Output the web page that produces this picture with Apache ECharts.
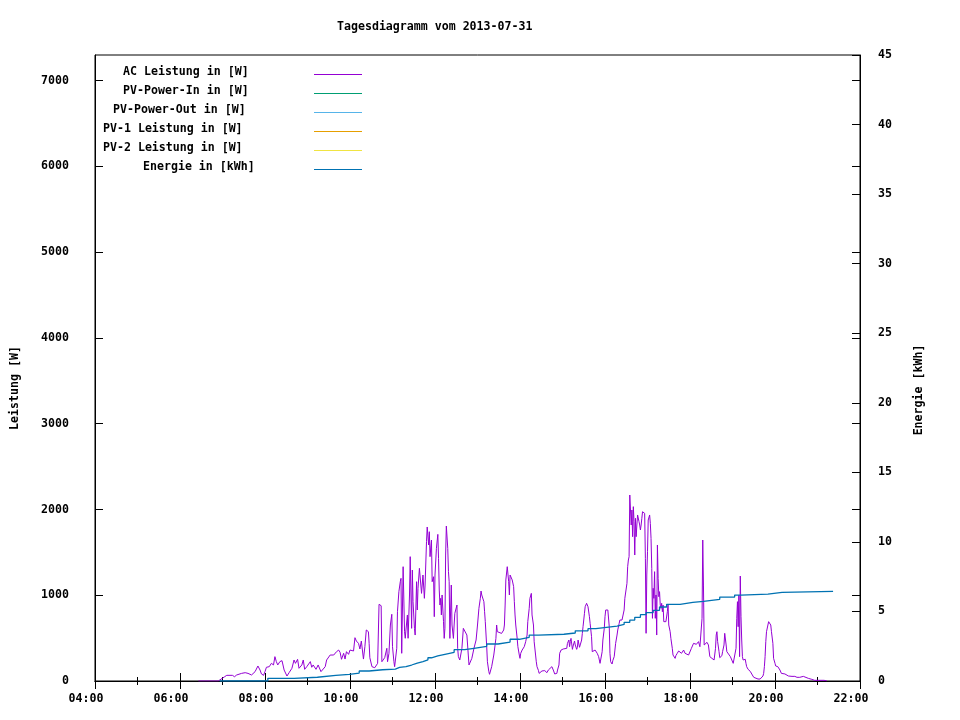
<!DOCTYPE html>
<html><head><meta charset="utf-8">
<script src="https://cdn.jsdelivr.net/npm/echarts@6/dist/echarts.min.js"></script>
<style>html,body{margin:0;padding:0;background:#fff}#c{width:960px;height:720px}</style>
</head><body><div id="c"></div>
<script>
const chartTitle = 'Tagesdiagramm vom 2013-07-31';
const seriesNames = ['AC Leistung in [W]', 'PV-Power-In in [W]', 'PV-Power-Out in [W]', 'PV-1 Leistung in [W]', 'PV-2 Leistung in [W]', 'Energie in [kWh]'];
const xTickLabels = ['04:00','06:00','08:00','10:00','12:00','14:00','16:00','18:00','20:00','22:00'];

const acTimes = ['06:26','06:54','06:56','07:03','07:06','07:14','07:17','07:20','07:27','07:32','07:36','07:41','07:46','07:50','07:53','07:55','07:58','08:00','08:02','08:06','08:09','08:12','08:14','08:16','08:18','08:21','08:24','08:27','08:31','08:34','08:38','08:41','08:43','08:46','08:48','08:52','08:54','08:56','08:59','09:04','09:06','09:08','09:12','09:15','09:19','09:25','09:27','09:32','09:37','09:41','09:44','09:46','09:48','09:51','09:53','09:55','09:58','10:00','10:02','10:05','10:07','10:09','10:12','10:14','10:16','10:19','10:21','10:23','10:26','10:27','10:28','10:31','10:35','10:39','10:40','10:41','10:44','10:45','10:47','10:49','10:52','10:53','10:55','10:57','10:59','11:00','11:02','11:03','11:06','11:07','11:09','11:11','11:12','11:13','11:15','11:17','11:18','11:19','11:21','11:22','11:24','11:25','11:27','11:28','11:29','11:31','11:32','11:34','11:35','11:36','11:38','11:39','11:41','11:42','11:43','11:45','11:46','11:48','11:49','11:51','11:52','11:53','11:55','11:56','11:58','11:59','12:00','12:02','12:04','12:05','12:06','12:07','12:08','12:09','12:10','12:12','12:13','12:14','12:15','12:16','12:18','12:19','12:20','12:21','12:23','12:24','12:26','12:27','12:28','12:31','12:32','12:33','12:35','12:38','12:40','12:42','12:45','12:47','12:48','12:52','12:55','12:58','13:00','13:02','13:04','13:05','13:06','13:09','13:10','13:11','13:13','13:14','13:16','13:17','13:20','13:23','13:26','13:27','13:28','13:30','13:34','13:37','13:38','13:39','13:40','13:42','13:44','13:45','13:46','13:48','13:49','13:51','13:52','13:53','13:54','13:56','13:57','13:59','14:00','14:01','14:03','14:04','14:06','14:07','14:08','14:10','14:11','14:13','14:14','14:16','14:17','14:19','14:20','14:22','14:23','14:24','14:26','14:27','14:28','14:31','14:33','14:35','14:38','14:40','14:42','14:45','14:47','14:49','14:52','14:53','14:55','14:56','14:58','15:01','15:06','15:07','15:09','15:10','15:11','15:12','15:14','15:15','15:17','15:18','15:20','15:21','15:22','15:24','15:25','15:27','15:28','15:29','15:31','15:32','15:34','15:35','15:36','15:38','15:39','15:41','15:42','15:43','15:46','15:49','15:51','15:52','15:53','15:54','15:56','15:57','15:59','16:00','16:01','16:04','16:06','16:07','16:08','16:10','16:11','16:13','16:14','16:15','16:17','16:18','16:20','16:21','16:23','16:24','16:25','16:27','16:28','16:30','16:31','16:32','16:33','16:34','16:35','16:37','16:38','16:39','16:40','16:41','16:42','16:43','16:44','16:45','16:46','16:48','16:49','16:50','16:51','16:52','16:53','16:55','16:56','16:57','16:58','16:59','17:00','17:01','17:03','17:04','17:05','17:06','17:07','17:08','17:09','17:10','17:11','17:12','17:13','17:14','17:15','17:16','17:17','17:18','17:19','17:20','17:21','17:22','17:23','17:25','17:26','17:28','17:29','17:30','17:32','17:33','17:35','17:36','17:39','17:40','17:42','17:44','17:46','17:48','17:51','17:53','17:55','17:58','18:00','18:02','18:05','18:07','18:09','18:12','18:14','18:16','18:17','18:18','18:19','18:20','18:22','18:24','18:26','18:28','18:31','18:33','18:34','18:36','18:37','18:38','18:39','18:41','18:42','18:45','18:46','18:48','18:49','18:51','18:52','18:54','18:57','18:59','19:01','19:05','19:06','19:07','19:08','19:09','19:10','19:11','19:12','19:13','19:14','19:15','19:16','19:18','19:19','19:20','19:22','19:23','19:25','19:26','19:28','19:29','19:30','19:32','19:36','19:39','19:41','19:43','19:44','19:45','19:46','19:47','19:48','19:50','19:51','19:52','19:54','19:55','19:57','19:58','20:00','20:01','20:04','20:05','20:07','20:08','20:09','20:14','20:16','20:19','20:24','20:28','20:31','20:35','20:40','20:42','20:47','20:52','20:56','21:09','21:13'];
const acValues = [0,0,20,50,66,66,50,70,89,97,89,70,109,175,128,82,66,109,160,167,206,187,284,226,187,226,237,128,58,97,148,245,206,253,148,187,245,136,167,226,160,187,136,187,109,167,245,303,303,342,361,334,253,323,256,342,311,361,381,350,505,466,439,373,466,256,400,595,575,439,272,167,155,206,225,894,878,225,225,272,381,225,323,653,778,400,225,167,381,808,1041,1158,1197,323,1333,575,498,595,770,498,1003,1450,614,1294,925,614,536,1158,828,1081,1314,1333,1022,1003,1236,964,1119,1625,1796,1586,1741,1450,1644,1158,1216,750,1236,1547,1710,1430,1061,886,964,770,1003,692,497,614,1469,1807,1547,1275,1158,497,1119,653,497,653,789,886,381,284,245,381,614,595,536,303,187,264,381,478,653,847,964,1049,1003,925,808,692,400,225,109,78,167,303,497,653,575,575,555,595,653,886,1178,1333,1158,1003,1236,1216,1178,1100,925,770,653,497,400,303,264,323,361,342,400,381,458,536,692,847,964,1022,770,653,458,303,225,167,124,89,82,117,128,121,97,128,148,167,128,82,89,128,187,323,361,373,381,439,478,400,459,497,369,408,466,420,369,393,478,393,420,478,556,633,789,866,906,913,866,750,672,517,342,323,361,323,284,245,206,225,342,478,614,750,828,828,633,323,225,198,237,284,361,439,536,595,672,711,731,711,719,828,964,983,1139,1333,1411,1450,2169,1819,1994,1683,2033,1858,1469,1897,1683,1819,1936,1858,1819,1761,1819,1897,1974,1982,1955,1430,556,1236,1508,1877,1936,1838,1663,1314,731,1081,964,1275,731,1003,536,1586,1197,983,1042,886,847,906,808,886,692,711,692,808,886,653,575,497,381,303,264,295,323,350,342,323,361,323,342,303,323,381,439,459,428,459,400,420,731,1644,1119,420,420,451,420,284,264,256,245,381,536,575,459,342,272,295,342,420,556,420,342,323,284,264,206,381,731,925,633,1003,284,1224,750,478,284,245,225,253,206,167,136,120,113,97,70,54,43,31,23,23,43,58,89,167,284,459,575,653,692,684,653,575,439,264,206,175,167,167,128,109,89,82,70,58,54,54,43,43,54,50,31,19,8,8,3];

const pvInTimes = [], pvInValues = [];
const pvOutTimes = [], pvOutValues = [];
const pv1Times = [], pv1Values = [];
const pv2Times = [], pv2Values = [];

const energyTimes = ['06:56','08:04','08:41','09:14','09:40','09:59','10:13','10:27','10:46','11:04','11:10','11:19','11:27','11:35','11:43','11:50','11:55','12:04','12:14','12:27','12:42','12:55','13:13','13:29','13:46','13:59','14:13','14:26','15:02','15:18','15:36','15:47','16:02','16:17','16:27','16:35','16:42','16:50','16:58','17:08','17:17','17:27','17:46','18:04','18:19','18:42','19:03','19:12','19:50','20:10','21:22'];
const energyValues = [0,0.19,0.27,0.41,0.48,0.57,0.72,0.81,0.86,0.98,1.03,1.15,1.29,1.39,1.52,1.67,1.80,1.92,2.06,2.25,2.35,2.49,2.66,2.80,3.00,3.14,3.30,3.36,3.45,3.61,3.76,3.86,3.95,4.07,4.22,4.38,4.58,4.77,4.92,5.08,5.32,5.51,5.65,5.73,5.87,6.03,6.18,6.25,6.37,6.44,6.44];

const colors = ['#9400d3','#009e73','#56b4e9','#e69f00','#f0e442','#0072b2'];
const FONT = '"DejaVu Sans Mono", "Liberation Mono", monospace';
const FS = 11.6;

const toH = s => { const p = s.split(':').map(Number); return p[0] + p[1] / 60; };
const pairs = (t, v) => t.map((s, i) => [toH(s), v[i]]);

const chart = echarts.init(document.getElementById('c'), null, {renderer: 'canvas'});
const txt = {fontFamily: FONT, fontSize: FS, fontWeight: 'bold', color: '#000'};
const gfont = 'bold ' + FS + 'px ' + FONT;

const legendGraphics = [];
seriesNames.forEach((n, i) => {
  legendGraphics.push({type: 'text', x: 303 - 10 * n.length, y: 72 + 19 * i,
    style: {text: n, verticalAlign: 'middle', align: 'left', font: gfont, fill: '#000'}});
  legendGraphics.push({type: 'line', shape: {x1: 314, y1: 74.5 + 19 * i, x2: 362, y2: 74.5 + 19 * i},
    style: {stroke: colors[i], lineWidth: 1}});
});

const xBase = {type: 'value', min: 4, max: 22, interval: 2, splitLine: {show: false},
  axisLine: {show: true, lineStyle: {color: '#000', width: 1}},
  axisTick: {show: true, inside: true, length: 8, lineStyle: {color: '#000'}},
  minorTick: {show: true, splitNumber: 2, length: 4, lineStyle: {color: '#000'}}};

const option = {
  backgroundColor: '#fff',
  animation: false,
  color: colors,
  title: {text: chartTitle, left: 332, top: 16, textStyle: Object.assign({}, txt)},
  grid: {left: 95, right: 100, top: 55, bottom: 39, show: true, borderColor: '#000', borderWidth: 1, containLabel: false},
  xAxis: [
    Object.assign({}, xBase, {position: 'bottom',
      axisLabel: Object.assign({}, txt, {margin: 12, padding: [0, 18, 0, 0], formatter: v => xTickLabels[Math.round((v - 4) / 2)] || ''})}),
    Object.assign({}, xBase, {position: 'top', axisLabel: {show: false}})
  ],
  yAxis: [
    {type: 'value', position: 'left', min: 0, max: 7300, interval: 1000, splitLine: {show: false},
      axisLine: {show: true, lineStyle: {color: '#000'}},
      axisTick: {inside: true, length: 8, lineStyle: {color: '#000'}},
      axisLabel: Object.assign({}, txt, {margin: 26, align: 'right', showMaxLabel: false, formatter: v => v > 7000 ? '' : String(v)})},
    {type: 'value', position: 'right', min: 0, max: 45, interval: 5, splitLine: {show: false},
      axisLine: {show: true, lineStyle: {color: '#000'}},
      axisTick: {inside: true, length: 8, lineStyle: {color: '#000'}},
      axisLabel: Object.assign({}, txt, {margin: 18, align: 'left'})},
    {type: 'value', position: 'right', offset: 0, min: 0, max: 7300, interval: 1000, splitLine: {show: false},
      axisLine: {show: false},
      axisTick: {inside: true, length: 8, lineStyle: {color: '#000'}},
      axisLabel: {show: false}}
  ],
  graphic: [
    {type: 'text', x: 15, y: 388, rotation: Math.PI / 2,
      style: {text: 'Leistung [W]', align: 'center', verticalAlign: 'middle', font: gfont, fill: '#000'}},
    {type: 'text', x: 919, y: 390, rotation: Math.PI / 2,
      style: {text: 'Energie [kWh]', align: 'center', verticalAlign: 'middle', font: gfont, fill: '#000'}}
  ].concat(legendGraphics),
  series: [
    {name: seriesNames[0], type: 'line', xAxisIndex: 0, yAxisIndex: 0, showSymbol: false, data: pairs(acTimes, acValues), lineStyle: {width: 1, color: colors[0]}},
    {name: seriesNames[1], type: 'line', xAxisIndex: 0, yAxisIndex: 0, showSymbol: false, data: pairs(pvInTimes, pvInValues), lineStyle: {width: 1, color: colors[1]}},
    {name: seriesNames[2], type: 'line', xAxisIndex: 0, yAxisIndex: 0, showSymbol: false, data: pairs(pvOutTimes, pvOutValues), lineStyle: {width: 1, color: colors[2]}},
    {name: seriesNames[3], type: 'line', xAxisIndex: 0, yAxisIndex: 0, showSymbol: false, data: pairs(pv1Times, pv1Values), lineStyle: {width: 1, color: colors[3]}},
    {name: seriesNames[4], type: 'line', xAxisIndex: 0, yAxisIndex: 0, showSymbol: false, data: pairs(pv2Times, pv2Values), lineStyle: {width: 1, color: colors[4]}},
    {name: seriesNames[5], type: 'line', xAxisIndex: 0, yAxisIndex: 1, showSymbol: false, step: 'end', data: pairs(energyTimes, energyValues), lineStyle: {width: 1.3, color: colors[5]}}
  ]
};
chart.setOption(option);
</script>
</body></html>
